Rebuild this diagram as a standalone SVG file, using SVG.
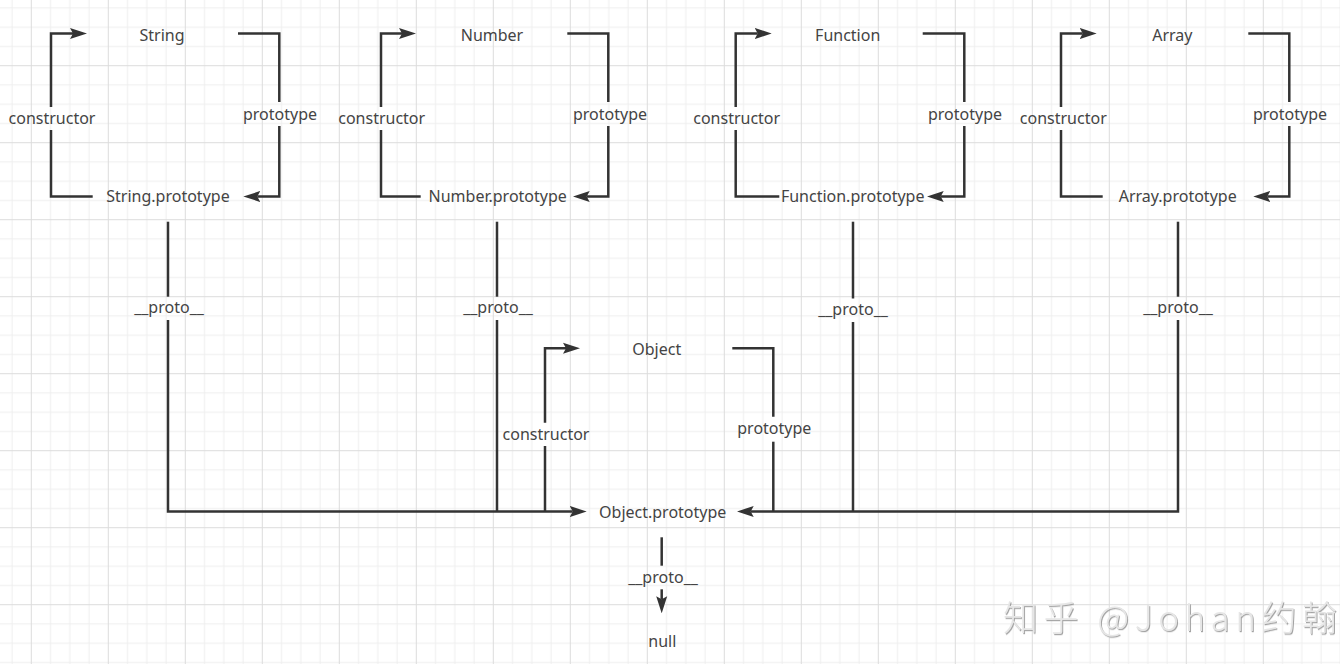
<svg xmlns="http://www.w3.org/2000/svg" width="1340" height="664" viewBox="0 0 1340 664">
  <style>
    .lbl { font-family: "Noto Sans", "Open Sans", sans-serif; font-size: 16px; fill: #444; text-anchor: middle; }
    .edge { fill: none; stroke: #333; stroke-width: 2.5; }
    .arr { marker-end: url(#arrow); }
    .mark { font-family: "Noto Sans CJK SC", "Noto Sans", sans-serif; font-size: 35px; font-weight: 300; fill: #e6e6e6; }
  </style>
  <defs>
    <pattern id="grid" width="77" height="77" patternUnits="userSpaceOnUse" x="30.8" y="65.2">
      <path d="M19.75,0 V77 M39,0 V77 M58.25,0 V77 M0,19.75 H77 M0,39 H77 M0,58.25 H77" stroke="#eeeeee" stroke-width="1" fill="none"/>
      <path d="M0.5,0 V77 M0,0.5 H77" stroke="#dcdcdc" stroke-width="1" fill="none"/>
    </pattern>
    <marker id="arrow" markerWidth="17" markerHeight="12" refX="3" refY="6" orient="auto" markerUnits="userSpaceOnUse">
      <path d="M0,0.5 L17,6 L0,11.5 L3,6 Z" fill="#333"/>
    </marker>
    <filter id="emboss" x="-5%" y="-20%" width="110%" height="140%">
      <feDropShadow dx="1" dy="1.2" stdDeviation="0.7" flood-color="#9a9a9a" flood-opacity="0.9"/>
    </filter>
  </defs>

  <!-- canvas background with grid -->
  <rect width="1340" height="664" fill="#ffffff"/>
  <rect width="1340" height="664" fill="url(#grid)"/>

  <!-- connectors -->
  <g id="connectors">
    <!-- String -->
    <path class="edge" d="M92.7,196.5 H51 V130"/>
    <path class="edge arr" d="M51,107 V33.5 H73"/>
    <path class="edge" d="M238,33.5 H279.3 V102"/>
    <path class="edge arr" d="M279.3,126 V196.5 H257.3"/>
    <!-- Number -->
    <path class="edge" d="M420.7,196.5 H381 V130"/>
    <path class="edge arr" d="M381,107 V33.5 H402"/>
    <path class="edge" d="M567.3,33.5 H608.3 V102"/>
    <path class="edge arr" d="M608.3,126 V196.5 H586.7"/>
    <!-- Function -->
    <path class="edge" d="M779.3,196.5 H735.7 V130"/>
    <path class="edge arr" d="M735.7,107 V33.5 H757.7"/>
    <path class="edge" d="M922.7,33.5 H964.3 V102"/>
    <path class="edge arr" d="M964.3,126 V196.5 H940.7"/>
    <!-- Array -->
    <path class="edge" d="M1102.7,196.5 H1061 V130"/>
    <path class="edge arr" d="M1061,107 V33.5 H1082.7"/>
    <path class="edge" d="M1248.3,33.5 H1289.3 V102"/>
    <path class="edge arr" d="M1289.3,126 V196.5 H1267.3"/>

    <!-- __proto__ links down to Object.prototype -->
    <path class="edge" d="M168,221.7 V296.7"/>
    <path class="edge arr" d="M168,320 V511.5 H572.7"/>
    <path class="edge" d="M497,221.7 V296.7"/>
    <path class="edge" d="M497,320 V511.5"/>
    <path class="edge" d="M853,221.7 V298.5"/>
    <path class="edge" d="M853,322 V511.5"/>
    <path class="edge" d="M1178,221.7 V296.7"/>
    <path class="edge arr" d="M1178,320 V511.5 H750.7"/>

    <!-- Object -->
    <path class="edge" d="M545,511.5 V446"/>
    <path class="edge arr" d="M545,422.7 V348.3 H566"/>
    <path class="edge" d="M732.3,348.3 H773.3 V416.7"/>
    <path class="edge" d="M773.3,441.7 V511.5"/>

    <!-- Object.prototype to null -->
    <path class="edge" d="M661.7,537.3 V565.7"/>
    <path class="edge arr" d="M661.7,589.3 V599.3"/>
  </g>

  <!-- nodes -->
  <g id="string">
    <text class="lbl" x="162" y="40.5">String</text>
    <text class="lbl" x="168" y="202.3">String.prototype</text>
    <text class="lbl" x="52" y="124.3">constructor</text>
    <text class="lbl" x="280" y="119.5">prototype</text>
    <text class="lbl" x="169" y="313.3">__proto__</text>
  </g>
  <g id="number">
    <text class="lbl" x="492" y="40.5">Number</text>
    <text class="lbl" x="497.7" y="202.3">Number.prototype</text>
    <text class="lbl" x="381.7" y="124.3">constructor</text>
    <text class="lbl" x="610" y="119.5">prototype</text>
    <text class="lbl" x="498" y="313.3">__proto__</text>
  </g>
  <g id="function">
    <text class="lbl" x="847.7" y="40.5">Function</text>
    <text class="lbl" x="852.7" y="202.3">Function.prototype</text>
    <text class="lbl" x="736.7" y="124.3">constructor</text>
    <text class="lbl" x="965" y="119.5">prototype</text>
    <text class="lbl" x="853" y="315">__proto__</text>
  </g>
  <g id="array">
    <text class="lbl" x="1172.3" y="40.5">Array</text>
    <text class="lbl" x="1177.7" y="202.3">Array.prototype</text>
    <text class="lbl" x="1063.3" y="124.3">constructor</text>
    <text class="lbl" x="1290" y="119.5">prototype</text>
    <text class="lbl" x="1178" y="313.3">__proto__</text>
  </g>
  <g id="object">
    <text class="lbl" x="656.7" y="355">Object</text>
    <text class="lbl" x="662.7" y="518.3">Object.prototype</text>
    <text class="lbl" x="546" y="440">constructor</text>
    <text class="lbl" x="774.3" y="434">prototype</text>
    <text class="lbl" x="663" y="583.3">__proto__</text>
  </g>
  <g id="null">
    <text class="lbl" x="662.3" y="647.3">null</text>
  </g>

  <!-- watermark -->
  <text class="mark" x="1003" y="631" textLength="334" lengthAdjust="spacing" filter="url(#emboss)">知乎 @Johan约翰</text>
</svg>
